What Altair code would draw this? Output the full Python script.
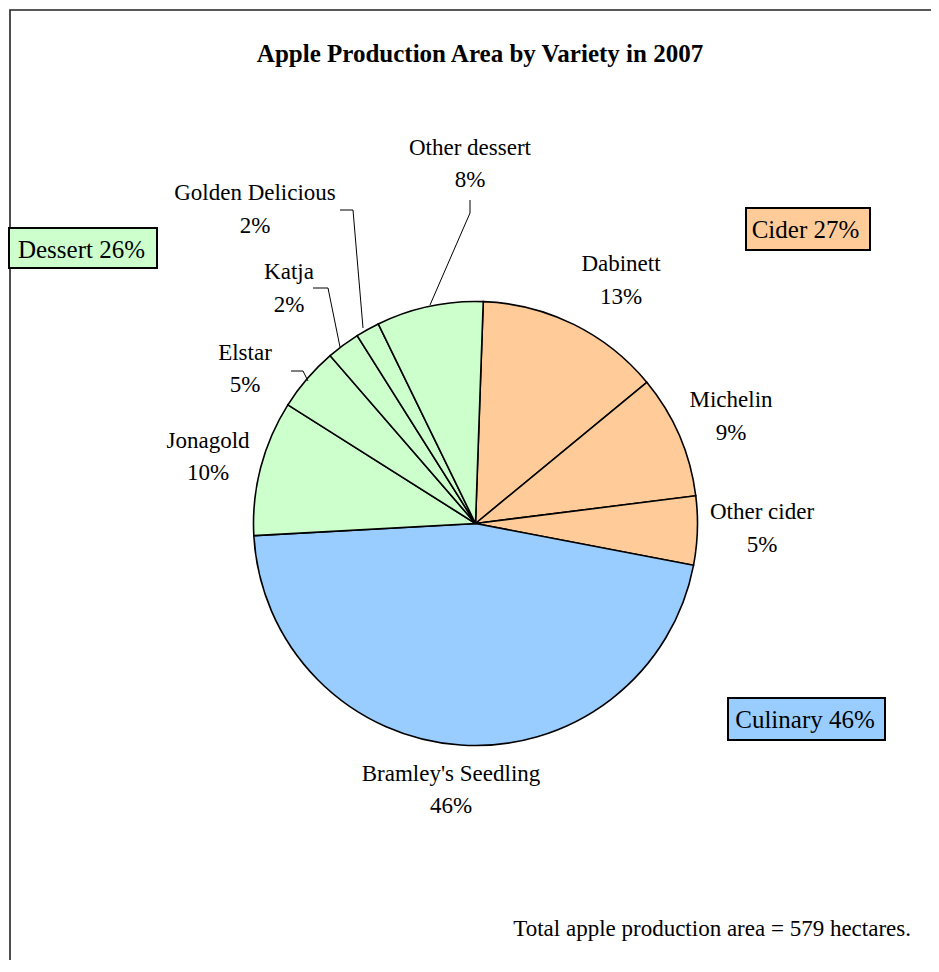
import math
import altair as alt
import pandas as pd

# ---------------- data ----------------
varieties = ["Dabinett", "Michelin", "Other cider", "Bramley's Seedling",
             "Jonagold", "Elstar", "Katja", "Golden Delicious", "Other dessert"]
groups = ["Cider", "Cider", "Cider", "Culinary",
          "Dessert", "Dessert", "Dessert", "Dessert", "Dessert"]
hectares = [78, 52, 29, 267, 57, 27, 14, 10, 45]
group_names = ["Dessert", "Cider", "Culinary"]
group_colors = ["#CCFFCC", "#FFCC99", "#99CCFF"]
title_text = "Apple Production Area by Variety in 2007"

# ---------------- layout (page pixel coordinates) ----------------
OFF = 8  # page margin
W, H = 923, 952
CX, CY, R = 475.5, 523.5, 222
START = math.radians(2)
FONT = "Liberation Serif"

# x centre, name baseline, percent baseline
label_pos = {
    "Dabinett": (621, 271, 304),
    "Michelin": (731, 407, 440),
    "Other cider": (762, 519, 552),
    "Bramley's Seedling": (451, 781, 813),
    "Jonagold": (208, 448, 480),
    "Elstar": (245, 360, 392),
    "Katja": (289, 279, 312),
    "Golden Delicious": (255, 200, 233),
    "Other dessert": (470, 155, 187),
}
leaders = {
    "Other dessert": [(470, 200), (470, 213), (430, 305)],
    "Golden Delicious": [(340, 210), (353, 210), (363, 328)],
    "Katja": [(313, 288), (328, 288), (340, 347)],
    "Elstar": [(291, 371), (303, 371), (308, 381)],
}
group_boxes = {  # x0, y0, x1, y1, text x centre, baseline
    "Dessert": (9, 228, 157, 268, 81.5, 258),
    "Cider": (746, 208, 870, 250, 805.5, 238),
    "Culinary": (728, 698, 885, 740, 805, 728),
}

total = sum(hectares)
df = pd.DataFrame({"variety": varieties, "group": groups,
                   "value": hectares, "order": list(range(len(varieties)))})

# ---------------- pie ----------------
pie = alt.Chart(df).mark_arc(stroke="black", strokeWidth=1.6, outerRadius=R).encode(
    theta=alt.Theta("value:Q", stack=True,
                    scale=alt.Scale(range=[START, START + 2 * math.pi])),
    color=alt.Color("group:N", scale=alt.Scale(domain=group_names, range=group_colors),
                    legend=None),
    order=alt.Order("order:Q"),
    x=alt.value(CX - OFF),
    y=alt.value(CY - OFF),
)

# ---------------- slice labels ----------------
rows = []
for v, h in zip(varieties, hectares):
    x, yb1, yb2 = label_pos[v]
    rows.append({"t": v, "x": x - OFF, "y": yb1 - OFF})
    rows.append({"t": f"{round(h / total * 100)}%", "x": x - OFF, "y": yb2 - OFF})
labels = alt.Chart(pd.DataFrame(rows)).mark_text(
    font=FONT, fontSize=23, baseline="alphabetic", align="center", color="black"
).encode(
    x=alt.X("x:Q", scale=None, axis=None),
    y=alt.Y("y:Q", scale=None, axis=None),
    text="t:N",
)

# ---------------- leader lines ----------------
lrows = []
for name, pts in leaders.items():
    for i, (px, py) in enumerate(pts):
        lrows.append({"k": name, "i": i, "x": px - OFF, "y": py - OFF})
leader_lines = alt.Chart(pd.DataFrame(lrows)).mark_line(color="black", strokeWidth=1).encode(
    x=alt.X("x:Q", scale=None, axis=None),
    y=alt.Y("y:Q", scale=None, axis=None),
    detail="k:N",
    order="i:Q",
)

# ---------------- group boxes ----------------
brows = []
for g, col in zip(group_names, group_colors):
    share = sum(h for h, gg in zip(hectares, groups) if gg == g) / total * 100
    x0, y0, x1, y1, tx, ty = group_boxes[g]
    brows.append({"g": g, "x0": x0 - OFF, "y0": y0 - OFF, "x1": x1 - OFF, "y1": y1 - OFF,
                  "tx": tx - OFF, "ty": ty - OFF, "t": f"{g} {round(share)}%"})
bdf = pd.DataFrame(brows)
boxes = alt.Chart(bdf).mark_rect(stroke="black", strokeWidth=2).encode(
    x=alt.X("x0:Q", scale=None, axis=None), x2="x1:Q",
    y=alt.Y("y0:Q", scale=None, axis=None), y2="y1:Q",
    color=alt.Color("g:N", scale=alt.Scale(domain=group_names, range=group_colors), legend=None),
)
box_text = alt.Chart(bdf).mark_text(
    font=FONT, fontSize=25, baseline="alphabetic", align="center", color="black"
).encode(
    x=alt.X("tx:Q", scale=None, axis=None),
    y=alt.Y("ty:Q", scale=None, axis=None),
    text="t:N",
)

# ---------------- frame, title, footnote ----------------
frame = alt.Chart(pd.DataFrame({"a": [0]})).mark_rect(
    fill=None, stroke="#222222", strokeWidth=1.6
).encode(
    x=alt.value(10 - OFF), x2=alt.value(W + 20),
    y=alt.value(10 - OFF), y2=alt.value(H + 20),
)
title = alt.Chart(pd.DataFrame({"t": [title_text]})).mark_text(
    font=FONT, fontSize=25, fontWeight="bold", baseline="alphabetic", align="center",
    color="black"
).encode(x=alt.value(480 - OFF), y=alt.value(62 - OFF), text="t:N")
foot = alt.Chart(pd.DataFrame({"t": [f"Total apple production area = {total} hectares."]})).mark_text(
    font=FONT, fontSize=23, baseline="alphabetic", align="right", color="black"
).encode(x=alt.value(911 - OFF), y=alt.value(936 - OFF), text="t:N")

chart = alt.layer(frame, pie, leader_lines, labels, boxes, box_text, title, foot).resolve_scale(
    color="independent"
).properties(
    width=W, height=H, padding=0, autosize=alt.AutoSizeParams(type="none")
).configure_view(stroke=None)

chart.save("out.html", embed_options={"renderer": "svg", "actions": False})
